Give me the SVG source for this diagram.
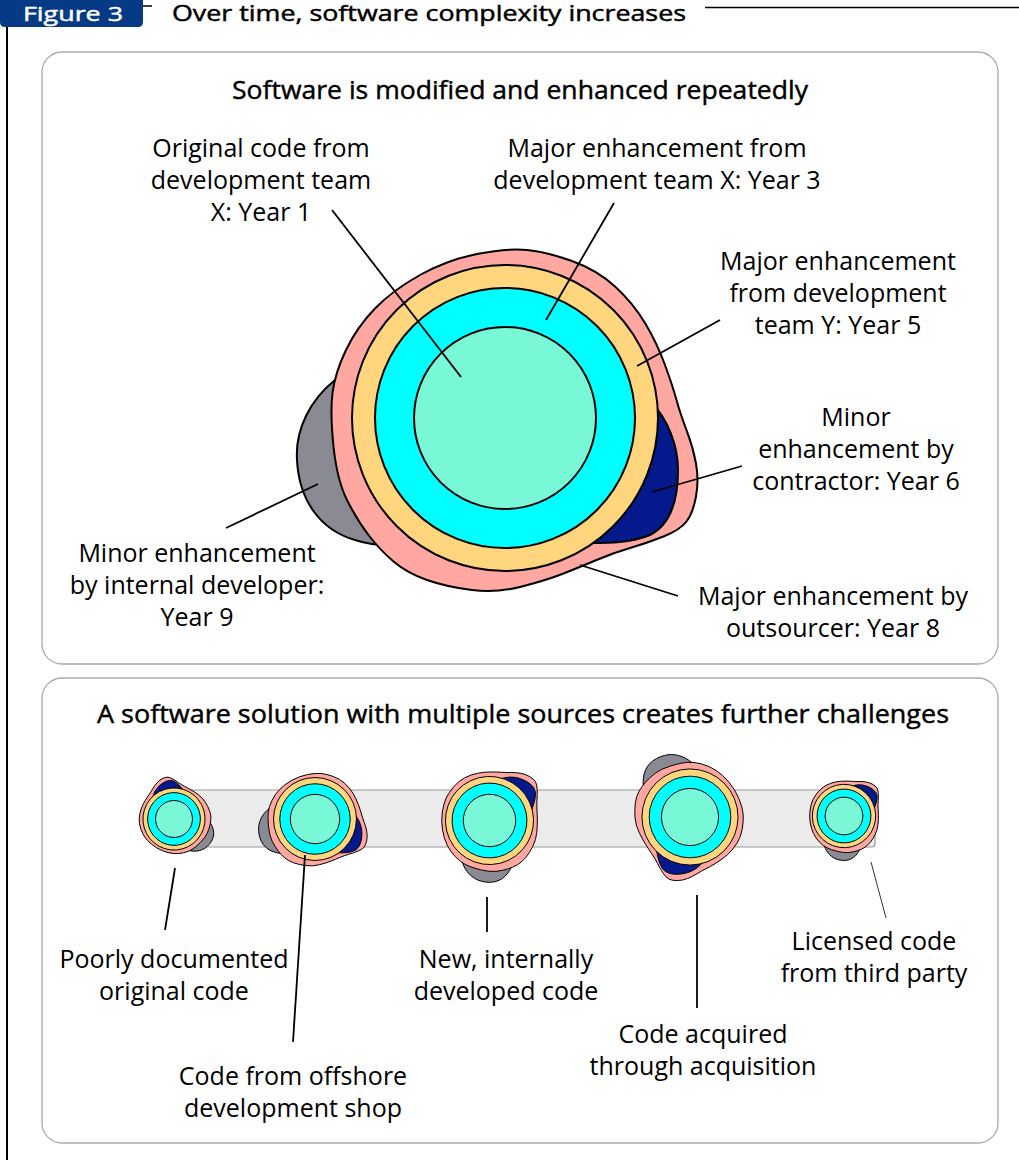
<svg xmlns="http://www.w3.org/2000/svg" xmlns:xlink="http://www.w3.org/1999/xlink" width="1019" height="1160" viewBox="0 0 1019 1160">
<style>
text{font-family:"Open Sans","Noto Sans","DejaVu Sans",sans-serif;font-size:25px;fill:#000;text-anchor:middle}
.ttl{font-size:26px;stroke:#000;stroke-width:0.45}
.panel{fill:#fff;stroke:#aaa;stroke-width:1.3}
.lead{stroke:#000;stroke-width:1.8;fill:none}
.b{stroke:#000;vector-effect:non-scaling-stroke}
.pink{fill:#ffa7a0}.yel{fill:#ffd67e}.cyan{fill:#00ffff}.mint{fill:#78f8d6}.navy{fill:#041a8c}.gray{fill:#8a8b92}
</style>
<defs>
<g id="blob" transform="translate(-505 -418)">
<path class="b gray" d="M 335 380 C 310 400 295 430 297 460 C 299 500 320 530 355 540 C 370 545 385 546 400 545 L 420 450 Z"/>
<path class="b pink" d="M 527 250 Q 547 252 572 261 Q 597 270 615 286.5 Q 633 303 645 323 Q 657 343 665 365 Q 673 387 676.5 400 Q 680 413 686.5 430 Q 693 447 696 463.5 Q 699 480 696 496.5 Q 693 513 686.5 521.5 Q 680 530 663.5 536.5 Q 647 543 630 548 Q 613 553 596.5 560 Q 580 567 563.5 573.5 Q 547 580 522 586.5 Q 497 593 472 590 Q 447 587 427 580 Q 407 573 393.5 561.5 Q 380 550 368.5 535 Q 357 520 347 500 Q 337 480 333.5 446.5 Q 330 413 332.5 393 Q 335 373 346 350 Q 357 327 375 308.5 Q 393 290 420 275 Q 447 260 477 254 Q 507 248 527 250 Z"/>
<path class="b navy" d="M 650 400 C 668 420 678 445 678 470 C 678 500 670 525 650 535 C 630 543 610 543 590 543 L 560 480 Z"/>
<circle class="b yel" cx="505" cy="418" r="153"/>
<circle class="b cyan" cx="505" cy="418" r="130"/>
<circle class="b mint" cx="505" cy="418" r="91"/>
</g>
</defs>
<g id="header">
<path d="M 0 -6 H 143 V 22 Q 143 27 138 27 H 5 Q 0 27 0 22 Z" fill="#063a85"/>
<text x="73" y="21" class="ttl" style="fill:#fff;stroke:#fff;font-size:20px" textLength="100" lengthAdjust="spacingAndGlyphs">Figure 3</text>
<line x1="143" y1="6" x2="152" y2="6" stroke="#000" stroke-width="1.5"/>
<text x="429" y="21" class="ttl" style="font-size:21px" textLength="514" lengthAdjust="spacingAndGlyphs">Over time, software complexity increases</text>
<line x1="705" y1="7.5" x2="1019" y2="7.5" stroke="#000" stroke-width="1.5"/>
<line x1="7" y1="27" x2="7" y2="1160" stroke="#000" stroke-width="2"/>
</g>
<g id="panel1">
<rect class="panel" x="42" y="52" width="956" height="612" rx="20"/>
<text x="520" y="99" class="ttl" textLength="576" lengthAdjust="spacingAndGlyphs">Software is modified and enhanced repeatedly</text>
</g>
<g id="bigblob"><use xlink:href="#blob" transform="translate(505 418)" stroke-width="2"/></g>
<g id="labels1">
<text x="261" y="157">Original code from</text>
<text x="261" y="189">development team</text>
<text x="261" y="221">X: Year 1</text>
<text x="657" y="157">Major enhancement from</text>
<text x="657" y="189">development team X: Year 3</text>
<text x="838" y="270">Major enhancement</text>
<text x="838" y="302">from development</text>
<text x="838" y="334">team Y: Year 5</text>
<text x="856" y="426">Minor</text>
<text x="856" y="458">enhancement by</text>
<text x="856" y="490">contractor: Year 6</text>
<text x="197" y="562">Minor enhancement</text>
<text x="197" y="594">by internal developer:</text>
<text x="197" y="626">Year 9</text>
<text x="833" y="605">Major enhancement by</text>
<text x="833" y="637">outsourcer: Year 8</text>
</g>
<g id="panel2">
<rect class="panel" x="42" y="678" width="956" height="465" rx="20"/>
<text x="523" y="723" class="ttl" textLength="852" lengthAdjust="spacingAndGlyphs">A software solution with multiple sources creates further challenges</text>
<path d="M 190 790 H 871 Q 875 790 875 794 V 843 Q 875 847 871 847 H 190 Z" fill="#ebebeb" stroke="#999" stroke-width="1.2"/>
</g>
<g id="smallblobs">
<use id="s1" xlink:href="#blob" transform="translate(174 819) rotate(-129) scale(0.203)" stroke-width="1"/>
<use id="s2" xlink:href="#blob" transform="translate(315 819) scale(0.271)" stroke-width="1"/>
<use id="s3" xlink:href="#blob" transform="translate(489.5 820.5) rotate(-70) scale(0.288)" stroke-width="1"/>
<use id="s4" xlink:href="#blob" transform="translate(690 817) rotate(79) scale(0.314)" stroke-width="1"/>
<use id="s5" xlink:href="#blob" transform="translate(844 816) rotate(-70) scale(0.207)" stroke-width="1"/>
</g>
<g id="labels2">
<text x="174" y="968">Poorly documented</text>
<text x="174" y="1000">original code</text>
<text x="293" y="1085">Code from offshore</text>
<text x="293" y="1117">development shop</text>
<text x="506" y="968">New, internally</text>
<text x="506" y="1000">developed code</text>
<text x="703" y="1043">Code acquired</text>
<text x="703" y="1075">through acquisition</text>
<text x="874" y="950">Licensed code</text>
<text x="874" y="982">from third party</text>
</g>
<g id="connectors">
<line class="lead" x1="332" y1="210" x2="461" y2="377"/>
<line class="lead" x1="614" y1="203" x2="546" y2="320"/>
<line class="lead" x1="720" y1="320" x2="637" y2="366"/>
<line class="lead" x1="742" y1="466" x2="652" y2="492"/>
<line class="lead" x1="318" y1="484" x2="226" y2="528"/>
<line class="lead" x1="580" y1="565" x2="678" y2="596"/>
<line class="lead" x1="175" y1="868" x2="165" y2="930"/>
<line class="lead" x1="305" y1="855" x2="293" y2="1042"/>
<line class="lead" x1="487" y1="897" x2="487" y2="932"/>
<line class="lead" x1="697" y1="895" x2="697" y2="1008"/>
<line x1="871" y1="862" x2="886" y2="918" stroke="#333" stroke-width="1"/>
</g>
</svg>
